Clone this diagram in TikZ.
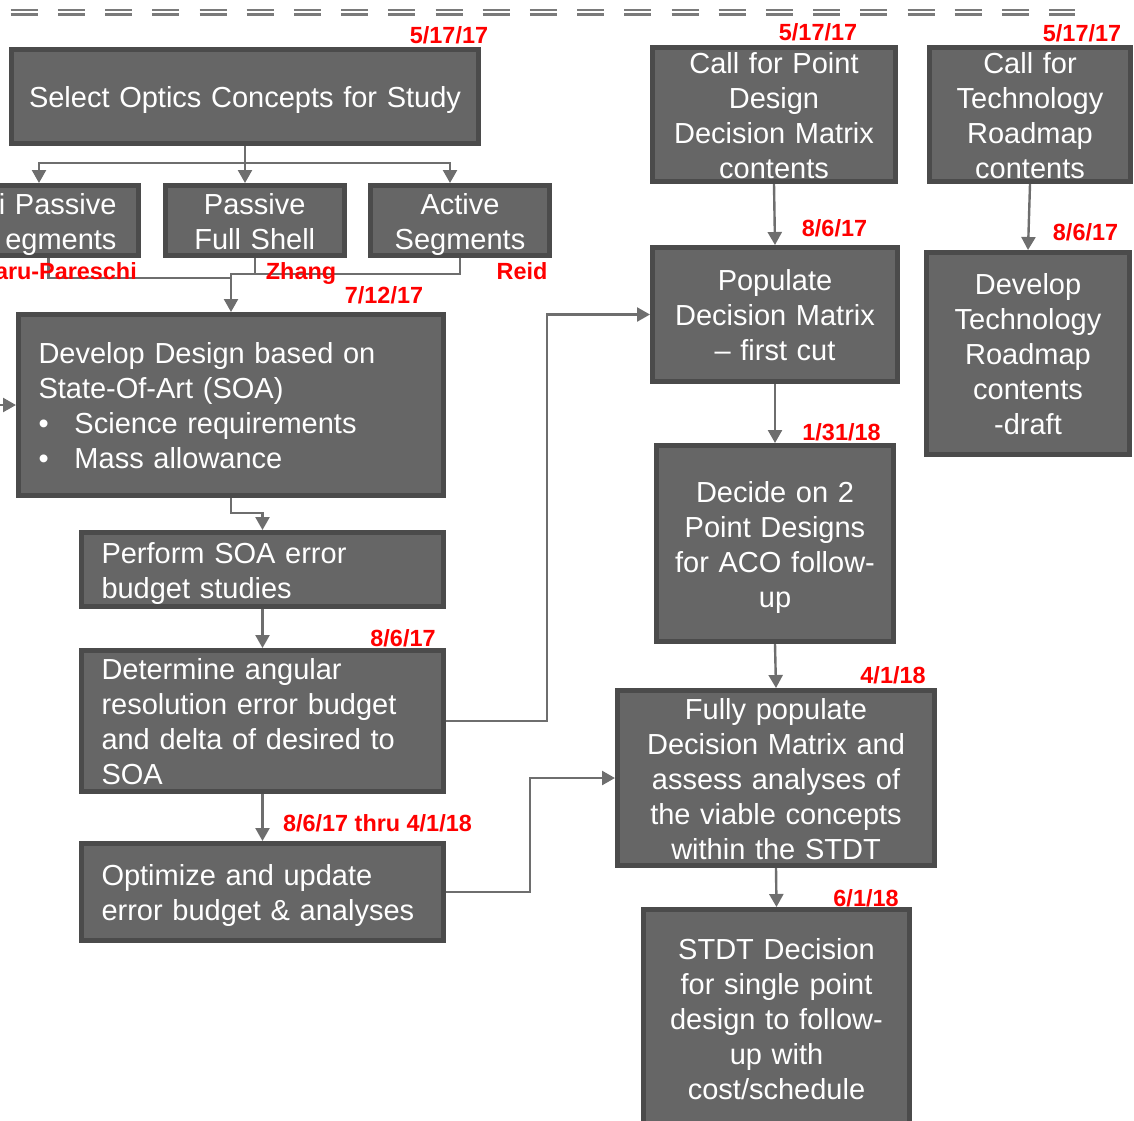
\documentclass[tikz,border=0pt]{standalone}
\usepackage{fontspec}
\setmainfont{Liberation Sans}
\usepackage{tikz}
\usetikzlibrary{arrows.meta}
\definecolor{boxfill}{HTML}{666666}
\definecolor{boxline}{HTML}{4B4B4B}
\definecolor{connline}{HTML}{6E6E6E}
\definecolor{dashgray}{HTML}{7A7A7A}
\definecolor{datered}{HTML}{FF0000}
\newcommand{\boxfont}{\fontsize{29}{35}\selectfont}
\newcommand{\datefont}{\fontsize{23.4}{28}\selectfont\bfseries}
\newcommand{\bul}{\makebox[36pt][l]{\textbullet}}
\newcommand{\linestrut}{\rule[-6.5pt]{0pt}{35pt}}
\tikzset{
  taskbox/.style={draw=boxline, fill=boxfill, line width=5pt, text=white, font=\boxfont, inner sep=0pt, align=center,
    execute at begin node=\linestrut, execute at end node=\linestrut},
  leftbox/.style={taskbox, align=left, inner xsep=20pt},
  conn/.style={draw=connline, line width=2.4pt},
  arrowto/.style={-{Triangle[width=14pt,length=13pt]}},
  datelabel/.style={text=datered, font=\datefont, inner sep=0pt},
  dashline/.style={draw=dashgray, line width=2.3pt, dash pattern=on 27pt off 20.2pt}
}

\begin{document}
\begin{tikzpicture}[x=1pt,y=-1pt]
                \useasboundingbox (0,0) rectangle (1134,1120);
                \clip (0,0) rectangle (1134,1120);

                % double dashed rule on top
                \draw[dashline] (10.7,10) -- (1075,10);
                \draw[dashline] (10.7,14.6) -- (1075,14.6);

                % left column
                \node[taskbox, text width=457pt, minimum width=467pt, minimum height=94pt] (sel) at (245,96.5) {Select Optics Concepts for Study};
                \node[taskbox, align=right, inner xsep=22pt, text width=136pt, minimum height=70pt] (lps) at (48.5,220.5) {i Passive\\egments};
                \node[taskbox, text width=169pt, minimum width=179.5pt, minimum height=70pt] (pfs) at (254.75,220.5) {Passive\\Full Shell};
                \node[taskbox, text width=169pt, minimum width=179pt, minimum height=70pt] (act) at (460,220.5) {Active\\Segments};

                \node[leftbox, text width=385pt, minimum height=181pt] (dev) at (231,405) {Develop Design based on\\State-Of-Art (SOA)\\\bul Science requirements\\\bul Mass allowance};
                \node[leftbox, text width=322pt, minimum height=74pt] (perf) at (262.5,569.5) {Perform SOA error\\budget studies};
                \node[leftbox, text width=322pt, minimum height=141pt] (det) at (262.5,721) {Determine angular\\resolution error budget\\and delta of desired to\\SOA};
                \node[leftbox, text width=322pt, minimum height=97pt] (opt) at (262.5,892) {Optimize and update\\error budget \& analyses};

                % right columns
                \node[taskbox, text width=233pt, inner ysep=-3pt, minimum width=243pt, minimum height=134pt] (cpd) at (774,114.5) {Call for Point\\Design\\Decision Matrix\\contents};
                \node[taskbox, text width=191pt, inner ysep=-3pt, minimum width=201pt, minimum height=134pt] (ctr) at (1030,114.5) {Call for\\Technology\\Roadmap\\contents};
                \node[taskbox, text width=235pt, minimum width=245pt, minimum height=134pt] (pop) at (775,314.5) {Populate\\Decision Matrix\\-- first cut};
                \node[taskbox, text width=193pt, minimum width=203pt, minimum height=202pt] (dtr) at (1028,353.5) {Develop\\Technology\\Roadmap\\contents\\-draft};
                \node[taskbox, text width=226pt, minimum width=236.5pt, minimum height=196pt] (dec) at (775,543.5) {Decide on 2\\Point Designs\\for ACO follow-\\up};
                \node[taskbox, text width=307pt, minimum width=317pt, minimum height=175pt] (full) at (776,778) {Fully populate\\Decision Matrix and\\assess analyses of\\the viable concepts\\within the STDT};
                \node[taskbox, text width=256pt, minimum width=266pt, minimum height=218pt] (stdt) at (776.5,1018.5) {STDT Decision\\for single point\\design to follow-\\up with\\cost/schedule};

                % connectors
                \coordinate (split) at (245,163);
                \draw[conn] (sel.south) -- (split);
                \draw[conn,arrowto] (split) -| ([xshift=-9.5pt]lps.north);
                \draw[conn,arrowto] (split) -| ([xshift=-9.75pt]pfs.north);
                \draw[conn,arrowto] (split) -| ([xshift=-10pt]act.north);

                \coordinate (jn) at (231,274);
                \coordinate (jl) at (231,278);
                \draw[conn] (lps.south) |- (jl);
                \draw[conn] (act.south) |- (jn);
                \draw[conn,arrowto] (pfs.south) |- (jn) -- (dev.north);

                \coordinate (inl) at (-5,405);
                \draw[conn,arrowto] (inl) -- (dev.west);
                \draw[conn,arrowto] (dev.south) -- ++(0,15) -| (perf.north);
                \draw[conn,arrowto] (perf.south) -- (det.north);
                \draw[conn,arrowto] (det.south) -- (opt.north);
                \draw[conn,arrowto] (det.east) -- ++(101,0) |- (pop.west);
                \draw[conn,arrowto] (opt.east) -- ++(84,0) |- (full.west);

                \draw[conn,arrowto] (cpd.south) -- (pop.north);
                \draw[conn,arrowto] (ctr.south) -- (dtr.north);
                \draw[conn,arrowto] (pop.south) -- (dec.north);
                \draw[conn,arrowto] (dec.south) -- (full.north);
                \draw[conn,arrowto] (full.south) -- (stdt.north);

                % dates and names
                \node[datelabel] (dsel) at (449,35) {5/17/17};
                \node[datelabel, anchor=east] (nlps) at (137,271) {aru-Pareschi};
                \node[datelabel] (npfs) at (301,273) {Zhang};
                \node[datelabel] (nact) at (522,271) {Reid};
                \node[datelabel] (ddev) at (384,295) {7/12/17};
                \node[datelabel] (ddet) at (403,638) {8/6/17};
                \node[datelabel] (dopt) at (377.5,823) {8/6/17 thru 4/1/18};
                \node[datelabel] (dcpd) at (818,32) {5/17/17};
                \node[datelabel] (dctr) at (1082,33) {5/17/17};
                \node[datelabel] (dpop) at (834.5,228) {8/6/17};
                \node[datelabel] (ddtr) at (1085.5,232) {8/6/17};
                \node[datelabel] (ddec) at (841.5,432) {1/31/18};
                \node[datelabel] (dfull) at (893,675) {4/1/18};
                \node[datelabel] (dstdt) at (866,898) {6/1/18};
\end{tikzpicture}
\end{document}
